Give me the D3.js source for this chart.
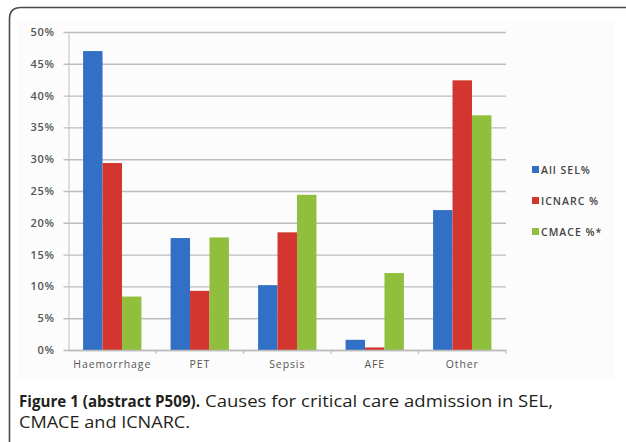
<!DOCTYPE html>
<html>
<head>
<meta charset="utf-8">
<script src="https://cdn.jsdelivr.net/npm/d3@7"></script>
<style>
  html, body { margin: 0; padding: 0; background: #fff; }
  svg { display: block; }
</style>
</head>
<body>
<svg id="fig" width="626" height="442"></svg>
<script>
// Causes for critical care admission, percentage of admissions per source
const categories = ["Haemorrhage", "PET", "Sepsis", "AFE", "Other"];
const seriesNames = ["All SEL%", "ICNARC %", "CMACE %*"];
const allSel = [47.0, 17.6, 10.2, 1.6, 22.0];
const icnarc = [29.4, 9.3, 18.5, 0.4, 42.4];
const cmace  = [8.4, 17.7, 24.4, 12.1, 36.9];
const yTicks = [0, 5, 10, 15, 20, 25, 30, 35, 40, 45, 50];
const seriesColors = ["#3270c6", "#d2362f", "#90bf3d"];

const seriesValues = [allSel, icnarc, cmace];
const rows = categories.map((c, i) => ({
  category: c,
  values: seriesNames.map((s, j) => ({ series: s, value: seriesValues[j][i] }))
}));

const svg = d3.select("#fig");
const chartFont = "'Open Sans', 'DejaVu Sans', sans-serif";

// outer frame with rounded top-left corner, open to the right and bottom
svg.append("path")
  .attr("d", "M9.5,443 L9.5,19 Q9.5,7.5 21,7.5 L630,7.5")
  .attr("fill", "none")
  .attr("stroke", "#4a4a4a")
  .attr("stroke-width", 1.6);

// chart area background
svg.append("rect")
  .attr("x", 18).attr("y", 20).attr("width", 596).attr("height", 358)
  .attr("fill", "#fcfcfc");

const plot = { left: 68.5, right: 506, top: 32, bottom: 350 };

const x0 = d3.scaleBand().domain(categories).range([plot.left, plot.right]).paddingInner(0).paddingOuter(0);
const x1 = d3.scaleBand().domain(seriesNames).range([0, x0.bandwidth()]).paddingInner(0).paddingOuter(0.75);
const y = d3.scaleLinear().domain([0, 50]).range([plot.bottom, plot.top]);
const color = d3.scaleOrdinal().domain(seriesNames).range(seriesColors);

// value axis with gridlines
const yAxis = svg.append("g")
  .attr("transform", `translate(${plot.left},0)`)
  .call(d3.axisLeft(y).tickValues(yTicks).tickFormat(d => d + "%").tickSize(0).tickPadding(14));
yAxis.select(".domain").attr("stroke", "#c8c8c8").attr("stroke-width", 1.2);
yAxis.selectAll(".tick line")
  .attr("x1", -5).attr("x2", plot.right - plot.left)
  .attr("stroke", "#bdbdbd").attr("stroke-width", 1.4);
yAxis.selectAll(".tick text")
  .attr("fill", "#555")
  .attr("font-family", chartFont)
  .attr("font-size", 11)
  .attr("font-weight", 600)
  .attr("letter-spacing", 0.6);

// bars
const groups = svg.append("g").selectAll("g")
  .data(rows)
  .join("g")
  .attr("transform", d => `translate(${x0(d.category)},0)`);
groups.selectAll("rect")
  .data(d => d.values)
  .join("rect")
  .attr("x", d => x1(d.series))
  .attr("width", x1.bandwidth())
  .attr("y", d => y(d.value))
  .attr("height", d => y(0) - y(d.value))
  .attr("fill", d => color(d.series));

// category axis
const xAxis = svg.append("g")
  .attr("transform", `translate(0,${plot.bottom})`)
  .call(d3.axisBottom(x0).tickSize(0).tickPadding(11));
xAxis.select(".domain").attr("stroke", "#bdbdbd").attr("stroke-width", 1.4);
xAxis.selectAll(".tick text")
  .attr("fill", "#555")
  .attr("font-family", chartFont)
  .attr("font-size", 10.5)
  .attr("letter-spacing", 0.9);
// small tick marks between categories
svg.append("g").selectAll("line")
  .data(categories.slice(1).concat(["__end"]))
  .join("line")
  .attr("x1", d => d === "__end" ? plot.right : x0(d))
  .attr("x2", d => d === "__end" ? plot.right : x0(d))
  .attr("y1", plot.bottom).attr("y2", plot.bottom + 4)
  .attr("stroke", "#bdbdbd").attr("stroke-width", 1.2);

// legend
const legend = svg.append("g").attr("transform", "translate(532,0)");
const legendY = d3.scalePoint().domain(seriesNames).range([170, 232]);
const li = legend.selectAll("g").data(seriesNames).join("g")
  .attr("transform", d => `translate(0,${legendY(d)})`);
li.append("rect").attr("x", 0).attr("y", -4).attr("width", 7).attr("height", 7)
  .attr("fill", d => color(d));
li.append("text").attr("x", 9).attr("y", 4)
  .attr("fill", "#444")
  .attr("font-family", chartFont)
  .attr("font-size", 10.5)
  .attr("font-weight", 600)
  .attr("letter-spacing", 1.0)
  .text(d => d);

// caption
const cap = svg.append("g")
  .attr("font-family", "'Open Sans', 'Noto Sans', sans-serif")
  .attr("fill", "#231f20");
cap.append("text").attr("x", 19).attr("y", 407)
  .attr("font-size", 15.5)
  .attr("font-weight", 700)
  .attr("textLength", 181).attr("lengthAdjust", "spacingAndGlyphs")
  .text("Figure 1 (abstract P509).");
cap.append("text").attr("x", 205).attr("y", 407)
  .attr("font-size", 16)
  .attr("textLength", 348).attr("lengthAdjust", "spacingAndGlyphs")
  .text("Causes for critical care admission in SEL,");
cap.append("text").attr("x", 19).attr("y", 428)
  .attr("font-size", 16)
  .attr("textLength", 171).attr("lengthAdjust", "spacingAndGlyphs")
  .text("CMACE and ICNARC.");
</script>
</body>
</html>
